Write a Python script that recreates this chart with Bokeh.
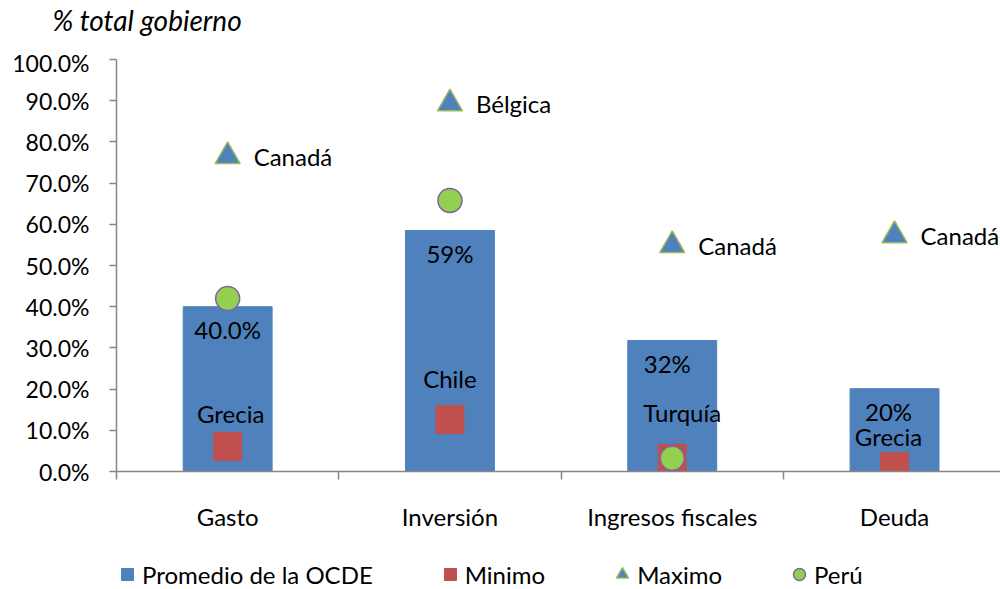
import numpy as np
from bokeh.plotting import figure
from bokeh.layouts import column
from bokeh.models import (ColumnDataSource, Range1d, FixedTicker, NumeralTickFormatter,
                          Legend, LegendItem)
from bokeh.embed import file_html
from bokeh.resources import INLINE
from bokeh.core.properties import value

# ---- data ----
categories = ["Gasto", "Inversión", "Ingresos fiscales", "Deuda"]
promedio = [0.400, 0.585, 0.318, 0.201]
minimo = [0.061, 0.126, 0.032, 0.012]
maximo = [0.765, 0.893, 0.549, 0.573]
peru = [0.420, 0.658, 0.032, np.nan]
bar_labels = ["40.0%", "59%", "32%", "20%"]
min_countries = ["Grecia", "Chile", "Turquía", "Grecia"]
max_countries = ["Canadá", "Bélgica", "Canadá", "Canadá"]
y_ticks = [0.0, 0.1, 0.2, 0.3, 0.4, 0.5, 0.6, 0.7, 0.8, 0.9, 1.0]
y_title = "% total gobierno"
legend_names = ["Promedio de la OCDE", "Minimo", "Maximo", "Perú"]

# ---- styles ----
FONT = "Lato"
FS = "24px"
BLUE = "#4F81BD"
RED = "#C0504D"
GREEN_EDGE = "#9BBB59"
GREEN = "#92D050"
PURPLE = "#8064A2"
AXIS = "#868686"
bar_label_dx = [0, 0, -5, -6]
min_label_dx = [3, 0, 10, -6]
min_label_dy = [-33, -41, -46, -30]

centers = [i + 0.5 for i in range(len(categories))]

src = ColumnDataSource(dict(
    x=centers, cat=categories, prom=promedio, mn=minimo, mx=maximo, pe=peru,
    blab=bar_labels, mnl=min_countries, mxl=max_countries,
    bdx=bar_label_dx, mdx=min_label_dx, mdy=min_label_dy,
))

W, H0, H1, H2 = 1000, 48, 487, 54

# ---- title strip ----
tf = figure(width=W, height=H0, output_backend="svg", toolbar_location=None,
            x_range=Range1d(0, 1), y_range=Range1d(0, 1),
            x_axis_type=None, y_axis_type=None, min_border=0,
            outline_line_color=None, background_fill_color="white",
            border_fill_color="white")
tf.xgrid.visible = False
tf.ygrid.visible = False
tf.title.text = y_title
tf.title.text_font = FONT
tf.title.text_font_size = "28px"
tf.title.text_font_style = "italic"
tf.title.text_color = "black"
tf.title.align = "left"
tf.title.offset = -64
tf.title.standoff = 0

# ---- main chart ----
p = figure(width=W, height=H1, output_backend="svg", toolbar_location=None,
           x_range=Range1d(0, 884 / 222.3), y_range=Range1d(0, 1.0),
           min_border_left=116, min_border_right=0, min_border_top=11,
           min_border_bottom=64, outline_line_color=None,
           background_fill_color="white", border_fill_color="white")
p.xgrid.visible = False
p.ygrid.visible = False

p.vbar(x="x", top="prom", width=0.4, source=src, fill_color=BLUE, line_color=BLUE)

p.text(x="x", y="prom", text="blab", source=src, x_offset="bdx", y_offset=23,
       text_align="center", text_baseline="middle", text_font=value(FONT),
       text_font_size=FS, text_color="black")

p.scatter(x="x", y="mn", source=src, marker="square", size=28,
          fill_color=RED, line_color=RED)
p.text(x="x", y="mn", text="mnl", source=src, x_offset="mdx", y_offset="mdy",
       text_align="center", text_baseline="middle", text_font=value(FONT),
       text_font_size=FS, text_color="black")

p.scatter(x="x", y="mx", source=src, marker="triangle", size=25,
          fill_color=BLUE, line_color=GREEN_EDGE, line_width=1.5)
p.text(x="x", y="mx", text="mxl", source=src, x_offset=26,
       text_align="left", text_baseline="middle", text_font=value(FONT),
       text_font_size=FS, text_color="black")

p.scatter(x="x", y="pe", source=src, marker="circle", size=24,
          fill_color=GREEN, line_color=PURPLE, line_width=1.5)

# axes
p.yaxis.ticker = FixedTicker(ticks=y_ticks)
p.yaxis.formatter = NumeralTickFormatter(format="0.0%")
p.yaxis.minor_tick_line_color = None
p.yaxis.major_tick_in = 0
p.yaxis.major_tick_out = 7
p.yaxis.major_label_standoff = 20
for ax in (p.xaxis[0], p.yaxis[0]):
    ax.axis_line_color = AXIS
    ax.axis_line_width = 1.5
    ax.major_tick_line_color = AXIS
    ax.major_tick_line_width = 1.5
    ax.major_label_text_font = FONT
    ax.major_label_text_font_size = "23px"
    ax.major_label_text_color = "black"
p.xaxis.major_label_text_font_size = FS

p.xaxis.ticker = FixedTicker(ticks=centers, minor_ticks=[0, 1, 2, 3, 4])
p.xaxis.major_label_overrides = {c: lab for c, lab in zip(centers, categories)}
p.xaxis.major_tick_in = 0
p.xaxis.major_tick_out = 0
p.xaxis.minor_tick_in = 0
p.xaxis.minor_tick_out = 8
p.xaxis.minor_tick_line_color = AXIS
p.xaxis.minor_tick_line_width = 1.5
p.xaxis.major_label_standoff = 22

# ---- legend strip ----
lf = figure(width=W, height=H2, output_backend="svg", toolbar_location=None,
            x_range=Range1d(0, 1), y_range=Range1d(0, 1),
            x_axis_type=None, y_axis_type=None, min_border=0,
            outline_line_color=None, background_fill_color="white",
            border_fill_color="white")
lf.xgrid.visible = False
lf.ygrid.visible = False
dummy = ColumnDataSource(dict(x=[np.nan], y=[np.nan]))
r1 = lf.scatter(x="x", y="y", source=dummy, marker="square", fill_color=BLUE, line_color=BLUE)
r2 = lf.scatter(x="x", y="y", source=dummy, marker="square", fill_color=RED, line_color=RED)
r3 = lf.scatter(x="x", y="y", source=dummy, marker="triangle", fill_color=BLUE,
                line_color=GREEN_EDGE, line_width=1.5)
r4 = lf.scatter(x="x", y="y", source=dummy, marker="circle", fill_color=GREEN,
                line_color=PURPLE, line_width=1.5)
items = [LegendItem(label=n, renderers=[r]) for n, r in zip(legend_names, [r1, r2, r3, r4])]
legend = Legend(items=items, orientation="horizontal", location=(-4, 0),
                glyph_width=30, glyph_height=30, label_standoff=0, spacing=62,
                padding=0, margin=0, border_line_color=None,
                background_fill_alpha=0, label_text_font=FONT,
                label_text_font_size=FS, label_text_color="black")
lf.add_layout(legend, "center")

open("out.html", "w").write(file_html(column(tf, p, lf, spacing=0), INLINE))
